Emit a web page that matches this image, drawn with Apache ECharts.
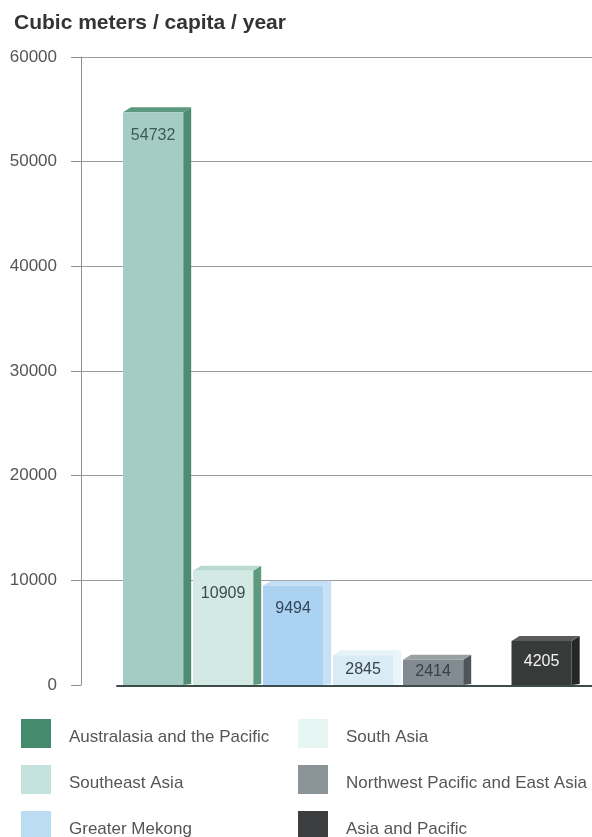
<!DOCTYPE html>
<html>
<head>
<meta charset="utf-8">
<script src="https://cdn.jsdelivr.net/npm/echarts@6/dist/echarts.min.js"></script>
<style>
  html, body { margin: 0; padding: 0; background: #ffffff; }
  #chart { width: 592px; height: 837px; }
</style>
</head>
<body>
<div id="chart"></div>
<script>
// Renewable water resources by region
const title = 'Cubic meters / capita / year';
const regions = [
  'Australasia and the Pacific',
  'Southeast Asia',
  'Greater Mekong',
  'South Asia',
  'Northwest Pacific and East Asia',
  'Asia and Pacific'
];
const values = [54732, 10909, 9494, 2845, 2414, 4205];
const yTicks = [0, 10000, 20000, 30000, 40000, 50000, 60000];

// Face colours for each region's block: front, side, top, legend swatch, value label
const palette = [
  { front: '#a5cbc5', side: '#4f8c74', top: '#5c987f', swatch: '#458a6d', label: '#3b5c56' },
  { front: '#d3e9e4', side: '#5d9a80', top: '#b9d9d2', swatch: '#c4e3de', label: '#3c4b4b' },
  { front: '#acd2f1', side: '#c6e0f5', top: '#c4def4', swatch: '#bcdcf3', label: '#33475a' },
  { front: '#d9ecf6', side: '#eaf5fa', top: '#e6f3f9', swatch: '#e6f7f3', label: '#38434d' },
  { front: '#828b91', side: '#4f5558', top: '#9aa1a5', swatch: '#8b9499', label: '#38414b' },
  { front: '#383a3a', side: '#262727', top: '#5a5c5c', swatch: '#3d3e3f', label: '#f2f2f2' }
];

// The aggregate region sits apart from the sub-regions on the axis
const slotOf = i => (i < 5 ? i : i + 0.55);

const font = '"Liberation Sans", Arial, Helvetica, sans-serif';
const DX = 8, DY = 5;

function blockRenderer(colors) {
  return function (params, api) {
    const slot = api.value(0);
    const v = api.value(1);
    const top = api.coord([slot, v]);
    const base = api.coord([slot, 0]);
    const w = api.size([1, 0])[0] * 0.86;
    const l = top[0] - w / 2, r = top[0] + w / 2;
    const h = base[1] - top[1];
    const labelOffset = Math.min(23, h * 0.47);
    return {
      type: 'group',
      children: [
        {
          type: 'polygon',
          shape: { points: [[r, top[1]], [r + DX, top[1] - DY], [r + DX, base[1] - 1], [r, base[1]]] },
          style: { fill: colors.side }
        },
        {
          type: 'polygon',
          shape: { points: [[l, top[1]], [l + DX, top[1] - DY], [r + DX, top[1] - DY], [r, top[1]]] },
          style: { fill: colors.top }
        },
        {
          type: 'rect',
          shape: { x: l, y: top[1], width: w, height: h },
          style: { fill: colors.front }
        },
        {
          type: 'text',
          style: {
            text: String(v),
            x: top[0],
            y: top[1] + labelOffset,
            align: 'center',
            verticalAlign: 'middle',
            fill: colors.label,
            font: '16px ' + font
          }
        }
      ]
    };
  };
}

const series = regions.map((name, i) => ({
  type: 'custom',
  name: name,
  xAxisIndex: 0,
  yAxisIndex: 0,
  clip: false,
  itemStyle: { color: palette[i].swatch },
  renderItem: blockRenderer(palette[i]),
  data: [[slotOf(i), values[i]]],
  z: 3
}));

const legendBase = {
  orient: 'vertical',
  icon: 'rect',
  itemWidth: 30,
  itemHeight: 29,
  itemGap: 17,
  padding: 0,
  top: 719,
  height: 140,
  selectedMode: false,
  formatter: '{t|{name}}',
  textStyle: {
    fontFamily: font, fontSize: 17, color: '#555555',
    rich: { t: { fontFamily: font, fontSize: 17, color: '#555555', padding: [8, 0, 0, 13] } }
  }
};

const option = {
  backgroundColor: '#ffffff',
  animation: false,
  title: {
    text: title,
    left: 9,
    top: 8,
    textStyle: { fontFamily: font, fontSize: 21, fontWeight: 'bold', color: '#333333' }
  },
  legend: [
    Object.assign({}, legendBase, { left: 21, data: regions.slice(0, 3) }),
    Object.assign({}, legendBase, { left: 298, data: regions.slice(3, 6) })
  ],
  grid: [
    { left: 81, right: 0, top: 57, bottom: 152 },
    { left: 117, right: 0, top: 57, bottom: 151 }
  ],
  xAxis: [
    {
      type: 'value', gridIndex: 0, min: -1.03, max: 6.27,
      show: false
    },
    {
      type: 'value', gridIndex: 1, min: 0, max: 1,
      axisLine: { show: true, lineStyle: { color: '#3c4d49', width: 2 } },
      axisTick: { show: false }, axisLabel: { show: false }, splitLine: { show: false }
    }
  ],
  yAxis: [
    {
      type: 'value', gridIndex: 0, min: 0, max: 60000, interval: 10000,
      axisLine: { show: true, onZero: false, lineStyle: { color: '#8f8f8f', width: 1 } },
      axisTick: { show: true, length: 10, lineStyle: { color: '#8f8f8f' } },
      axisLabel: {
        margin: 24, fontFamily: font, fontSize: 17, color: '#555555',
        formatter: v => (yTicks.indexOf(v) >= 0 ? String(v) : '')
      },
      splitLine: {
        show: true,
        lineStyle: { color: ['rgba(0,0,0,0)', '#9a9a9a', '#9a9a9a', '#9a9a9a', '#9a9a9a', '#9a9a9a', '#9a9a9a'], width: 1 }
      }
    },
    {
      type: 'value', gridIndex: 1, min: 0, max: 1, show: false
    }
  ],
  series: series
};

const chart = echarts.init(document.getElementById('chart'), null, { renderer: 'canvas' });
chart.setOption(option);
</script>
</body>
</html>
